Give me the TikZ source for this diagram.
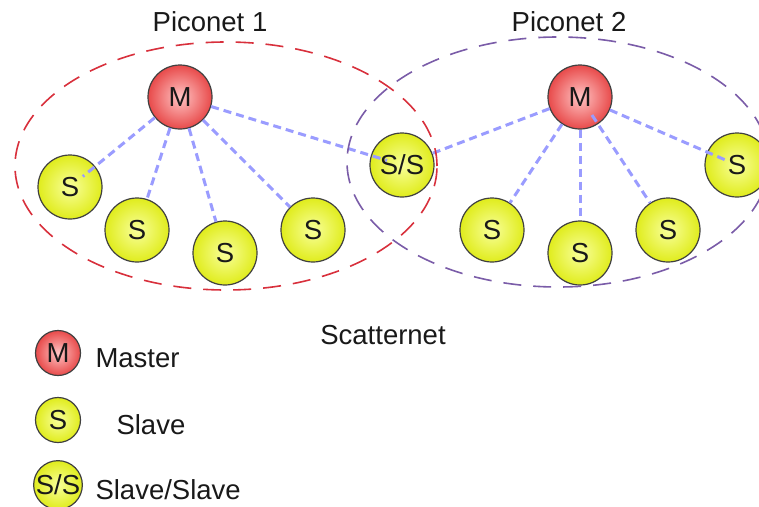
\documentclass[tikz,border=0pt]{standalone}
\usepackage{fontspec}
\setmainfont{Liberation Sans}
\definecolor{masterred}{HTML}{E84A4A}
\definecolor{masterpink}{HTML}{FFC4C4}
\definecolor{slaveyellow}{HTML}{E0EC1C}
\definecolor{slavelight}{HTML}{F8FF9A}
\definecolor{linkblue}{HTML}{9A9CFF}
\definecolor{picored}{HTML}{D8303C}
\definecolor{picopurple}{HTML}{7A5CA8}
\begin{document}
\begin{tikzpicture}[x=1pt,y=1pt,
  every node/.style={font=\fontsize{27.5}{30}\selectfont, text=black!90},
  master/.style={circle, draw=black!75, line width=1.2pt, minimum size=64pt, inner sep=0pt,
    inner color=masterpink, outer color=masterred},
  slave/.style={circle, draw=black!75, line width=1.2pt, minimum size=64pt, inner sep=0pt,
    inner color=slavelight, outer color=slaveyellow},
  small/.style={minimum size=45pt},
  link/.style={draw=linkblue, line width=3pt, dash pattern=on 8pt off 5pt},
  piconet/.style={line width=1.6pt, dash pattern=on 18pt off 12pt}]
  \useasboundingbox (0,0) rectangle (759,-506);

  % piconet 1
  \node [master] (m1) at (180,-97) {M};
  \node [slave] (s11) at (70,-187) {S};
  \node [slave] (s12) at (137,-230) {S};
  \node [slave] (s13) at (225,-253) {S};
  \node [slave] (s14) at (313,-230) {S};
  % shared slave
  \node [slave] (ss) at (402,-165) {S/S};
  % piconet 2
  \node [master] (m2) at (580,-97) {M};
  \node [slave] (s21) at (492,-230) {S};
  \node [slave] (s22) at (580,-253) {S};
  \node [slave] (s23) at (668,-230) {S};
  \node [slave] (s24) at (737,-165) {S};

  \draw [link, shorten >=-16pt] (m1) -- (s11);
  \draw [link] (m1) -- (s12);
  \draw [link] (m1) -- (s13);
  \draw [link] (m1) -- (s14);
  \draw [link, shorten >=-17pt] (m1) -- (ss);
  \draw [link] (m2) -- (ss);
  \draw [link] (m2) -- (s21);
  \draw [link] (m2) -- (s22);
  \draw [link, shorten <=-11pt] (m2) -- (s23);
  \draw [link, shorten >=-21pt] (m2) -- (s24);

  \draw [piconet, picored] (226,-166) ellipse [x radius=211, y radius=124];
  \draw [piconet, picopurple] (558,-162) ellipse [x radius=211, y radius=125];
  \node (p1) at (210,-22) {Piconet 1};
  \node (p2) at (569,-22) {Piconet 2};
  \node (scat) at (383,-335) {Scatternet};

  % legend
  \node [master, small] (lm) at (58,-353) {M};
  \node [slave, small] (ls) at (58,-420) {S};
  \node [slave, small] (lss) at (58,-485) {S/S};
  \node [anchor=west] (lmt) at (92,-358) {Master};
  \node [anchor=west] (lst) at (113,-425) {Slave};
  \node [anchor=west] (lsst) at (92,-490) {Slave/Slave};
\end{tikzpicture}
\end{document}
